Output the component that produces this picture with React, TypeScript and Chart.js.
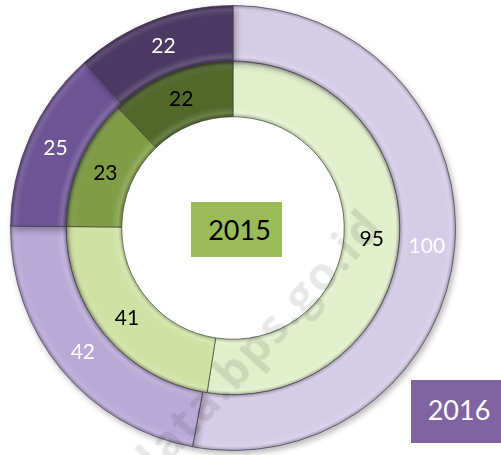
import React, { useEffect, useRef } from "react";
import { Chart, registerables } from "chart.js";

Chart.register(...registerables);

const categories = ["A", "B", "C", "D"];
const values2016 = [100, 42, 25, 22];
const values2015 = [95, 41, 23, 22];
const colors2016 = ["#d5cce7", "#b9a9d7", "#6c5495", "#4a3963"];
const colors2015 = ["#e1efcb", "#d0e2a3", "#809d45", "#526829"];
const labelColor2016 = "#ffffff";
const labelColor2015 = "#000000";
const seriesNames = ["2016", "2015"];

function shade(hex: string, amt: number): string {
  const n = parseInt(hex.slice(1), 16);
  const r = (n >> 16) & 255, g = (n >> 8) & 255, b = n & 255;
  const f = (c: number) => Math.max(0, Math.min(255, Math.round(amt >= 0 ? c + (255 - c) * amt : c * (1 + amt))));
  return `rgb(${f(r)},${f(g)},${f(b)})`;
}

function bevel(base: string[]) {
  return (ctx: any) => {
    const chart = ctx.chart;
    const color = base[ctx.dataIndex % base.length];
    const meta = chart.getDatasetMeta(ctx.datasetIndex);
    const ctrl: any = meta && meta.controller;
    const ca = chart.chartArea;
    if (!ctrl || !ca || !ctrl.outerRadius) return color;
    const cx = (ca.left + ca.right) / 2;
    const cy = (ca.top + ca.bottom) / 2;
    const outer = ctrl.outerRadius;
    const inner = ctrl.innerRadius;
    if (!(outer > inner)) return color;
    const g = chart.ctx.createRadialGradient(cx, cy, inner, cx, cy, outer);
    g.addColorStop(0, shade(color, -0.2));
    g.addColorStop(0.07, shade(color, 0.15));
    g.addColorStop(0.18, color);
    g.addColorStop(0.82, color);
    g.addColorStop(0.93, shade(color, 0.12));
    g.addColorStop(1, shade(color, -0.22));
    return g;
  };
}

const shadowPlugin = {
  id: "ringShadow",
  beforeDatasetDraw(chart: any, args: any) {
    if (args.index !== 0) return;
    const ctx = chart.ctx;
    ctx.save();
    ctx.shadowColor = "rgba(0,0,0,0.28)";
    ctx.shadowBlur = 6;
    ctx.shadowOffsetX = 2;
    ctx.shadowOffsetY = 3;
  },
  afterDatasetDraw(chart: any, args: any) {
    if (args.index !== 0) return;
    chart.ctx.restore();
  },
};

const labelPlugin = {
  id: "arcLabels",
  afterDatasetsDraw(chart: any) {
    const ctx = chart.ctx;
    ctx.save();
    ctx.font = "21px Lato";
    ctx.textAlign = "center";
    ctx.textBaseline = "middle";
    chart.data.datasets.forEach((ds: any, di: number) => {
      const meta = chart.getDatasetMeta(di);
      meta.data.forEach((arc: any, i: number) => {
        const p = arc.tooltipPosition();
        ctx.fillStyle = di === 0 ? labelColor2016 : labelColor2015;
        ctx.fillText(String(ds.data[i]), p.x, p.y);
      });
    });
    ctx.restore();
  },
};

export default function App() {
  const ref = useRef<HTMLCanvasElement>(null);
  useEffect(() => {
    if (!ref.current) return;
    const chart = new Chart(ref.current, {
      type: "doughnut",
      data: {
        labels: categories,
        datasets: [
          {
            label: seriesNames[0],
            data: values2016,
            backgroundColor: bevel(colors2016),
            borderColor: "rgba(70,60,80,0.7)",
            borderWidth: 1,
          },
          {
            label: seriesNames[1],
            data: values2015,
            backgroundColor: bevel(colors2015),
            borderColor: "rgba(60,70,50,0.7)",
            borderWidth: 1,
          },
        ],
      },
      options: {
        responsive: false,
        animation: false,
        cutout: "50%",
        events: [],
        layout: { padding: { left: 10, top: 5, right: 45, bottom: 4 } },
        plugins: { legend: { display: false }, tooltip: { enabled: false } },
      },
      plugins: [shadowPlugin, labelPlugin],
    });
    return () => chart.destroy();
  }, []);

  return (
    <div style={{ position: "absolute", left: 0, top: 0, width: 501, height: 455, background: "#fff", overflow: "hidden" }}>
      <canvas ref={ref} width={501} height={455} style={{ position: "absolute", left: 0, top: 0 }} />
      <div
        style={{
          position: "absolute", left: 191, top: 202, width: 91, height: 55, background: "#9bbb59",
          display: "flex", alignItems: "center", justifyContent: "center", paddingLeft: 6, boxSizing: "border-box",
          font: "27px Lato", color: "#000",
        }}
      >
        2015
      </div>
      <div
        style={{
          position: "absolute", left: 411, top: 380, width: 90, height: 63, background: "#8064a2",
          display: "flex", alignItems: "center", justifyContent: "center", paddingLeft: 6, paddingBottom: 4, boxSizing: "border-box",
          font: "27px Lato", color: "#fff",
        }}
      >
        2016
      </div>
      <div
        style={{
          position: "absolute", left: 372, top: 216, width: 0, height: 0,
          transform: "rotate(-47.5deg)", transformOrigin: "0 0", pointerEvents: "none",
        }}
      >
        <div
          style={{
            position: "absolute", right: 0, top: 0, transform: "translateY(-50%)",
            font: "bold 46px 'Open Sans'", letterSpacing: 2, color: "rgba(0,0,0,0.09)", whiteSpace: "nowrap",
          }}
        >
          data.bps.go.id
        </div>
      </div>
    </div>
  );
}
